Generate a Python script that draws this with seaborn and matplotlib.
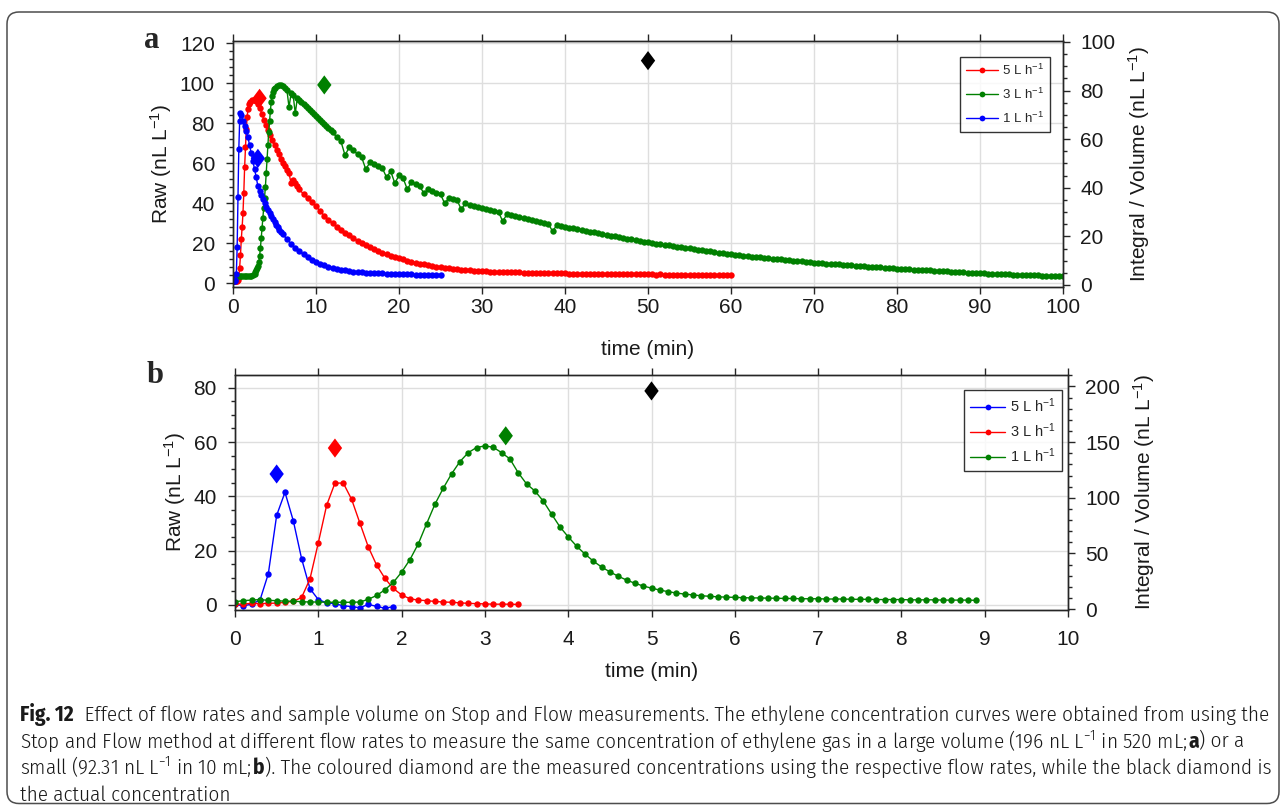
import matplotlib
matplotlib.use("Agg")
import matplotlib.pyplot as plt
import numpy as np
import seaborn as sns
from matplotlib.markers import MarkerStyle
from matplotlib.patches import FancyBboxPatch
from matplotlib.ticker import AutoMinorLocator, MultipleLocator
from matplotlib.transforms import IdentityTransform

RED, GREEN, BLUE = "#ff0000", "#008000", "#0000ff"

# ---- panel a: large volume, raw signal (nL/L) as (start min, step min, values) segments
blue_a = [
    (0.0, 0.1, [1.0, 1.0, 1.1, 1.5, 4.5, 18, 43, 67, 81, 85, 84]),
    (1.2, 0.2, [81, 78.5, 76, 73, 69, 65, 61, 57, 53, 48.5, 46, 44, 42, 40, 38, 36.5, 35,
                33.5, 32, 30.5, 29.2, 28, 26.8, 25.6, 24.5]),
    (6.5, 0.5, [22, 19.8, 17.8, 16, 14.4, 13, 11.8, 10.7, 9.8, 9.0, 8.3, 7.7, 7.2, 6.8, 6.4,
                6.1, 5.8, 5.6, 5.4, 5.2, 5.1, 5.0, 4.9, 5.0, 4.8, 4.7, 4.6, 4.7, 4.5, 4.4,
                4.5, 4.3, 4.2, 4.3, 4.1, 4.0, 4.1, 4.0]),
]
red_a = [
    (0.0, 0.1, [1.0, 1.0, 1.0, 1.0, 1.1, 1.2, 1.5, 3.0, 7.8, 14, 22, 28, 35, 45, 58, 68, 77,
                83, 87, 89.5, 90.5]),
    (2.25, 0.25, [91.5, 91.5, 91, 89.5, 87.5, 84.5, 81.5, 79, 76.5, 74, 71.5, 69, 66.8, 64.5,
                  62.3, 60.3, 58.4, 56.6, 54.9, 50, 51.6, 50, 48.5, 47]),
    (8.5, 0.5, [44.5, 42.5, 40.5, 38.5, 36, 33.8, 31.8, 30, 28.3, 26.8, 25.3, 23.9, 22.6, 21.3,
                20.1, 19, 18, 17, 16.1, 15.3, 14.5, 13.8, 13.1, 12.5, 11.9, 11.3, 10.8, 10.3,
                9.8, 9.4, 9.0, 8.6, 8.3, 8.0, 7.7, 7.5, 7.2, 7.0, 6.8, 6.6, 6.5, 6.3, 6.2, 6.0]),
    (30.5, 0.5, [5.9, 5.8, 5.8, 5.7, 5.6, 5.6, 5.5, 5.4, 5.4, 5.3, 5.3, 5.2, 5.2, 5.1, 5.1,
                 5.0, 5.0, 4.9, 4.9, 4.9, 4.8, 4.8, 4.8, 4.7, 4.7, 4.7, 4.6, 4.6, 4.6, 4.6,
                 4.5, 4.5, 4.5, 4.5, 4.5, 4.4, 4.4, 4.4, 4.4, 4.4, 4.4, 4.3, 4.4, 4.3, 4.3,
                 4.3, 4.3, 4.3, 4.3, 4.3, 4.2, 4.3, 4.2, 4.2, 4.3, 4.2, 4.2, 4.2, 4.2, 4.2]),
]
green_a = [
    (0.0, 0.2, [3.5, 3.6, 3.5, 3.6, 3.7, 3.6, 3.7, 3.6, 3.7, 3.8, 3.7, 3.8, 4.0]),
    (2.6, 0.1, [4.5, 5.5, 6.5, 7.5, 8.5, 10.5, 13.5, 17.5, 22.5, 27.5, 32.5, 37.5, 42.5, 48,
                55, 62, 69, 75.5, 81, 86, 90.5, 93.5, 95.5, 97, 97.5]),
    (5.25, 0.25, [98.5, 99, 99, 98.5, 97.5, 96.5, 88, 95, 94, 85, 92.5, 91.5, 90.5, 89.5, 88.5,
                  87.5, 86.5, 85.5, 84.5, 83.5, 82.5, 81.5, 80.5, 79.5, 78.5, 77.5, 76.5, 75.5]),
    (12.5, 0.5, [73, 71, 64, 68, 66.5, 64.5, 63, 57, 60.5, 59.5, 58.5, 57.5, 53, 56, 50, 54,
                 52.5, 47, 50.5, 49.5, 48.5, 45, 47, 46, 45, 44.5, 40, 42.5, 42, 41.5,
                 37, 40, 39, 38.5, 38, 37.5, 37, 36.5, 36, 35.5, 31, 34.5, 34, 33.5, 33,
                 32.5, 32, 31.5, 31, 30.5, 30, 29.7, 26, 29, 28.6, 28.2]),
    (40.5, 0.5, [27.8, 27.4, 27.0, 26.6, 26.2, 25.8, 25.4, 25.0, 24.6, 24.2, 23.8, 23.4, 23.0,
                 22.6, 22.3, 21.9, 21.5, 21.2, 20.8, 20.5, 20.1, 19.8, 19.5, 19.2, 18.9, 18.6,
                 18.3, 18.0, 17.7, 17.4, 17.1, 16.8, 16.5, 16.2, 15.9, 15.6, 15.3, 15.0, 14.8,
                 14.5, 14.2, 14.0, 13.7, 13.5, 13.3, 13.1, 12.9, 12.7, 12.5, 12.3, 12.1, 11.9,
                 11.7, 11.5, 11.3, 11.1, 10.9, 10.7, 10.5, 10.3, 10.2, 10.0, 9.8, 9.7, 9.5, 9.4,
                 9.2, 9.1, 8.9, 8.8, 8.6, 8.5, 8.3, 8.2, 8.0, 7.9, 7.7, 7.6, 7.4, 7.3, 7.2, 7.1,
                 6.9, 6.8, 6.7, 6.6, 6.5, 6.4, 6.2, 6.1, 6.0, 5.9, 5.8, 5.7, 5.5, 5.4, 5.3, 5.2,
                 5.1, 5.0, 4.9, 4.8, 4.8, 4.7, 4.6, 4.5, 4.4, 4.3, 4.3, 4.2, 4.1, 4.0, 4.0, 3.9,
                 3.8, 3.7, 3.7, 3.6, 3.5, 3.5]),
]
# measured (coloured) and actual (black) concentrations, integral / volume axis
diam_a_time = [3.2, 11.0, 3.0, 50.0]
diam_a_conc = [76.8, 82.3, 52.1, 92.3]
diam_a_color = [RED, GREEN, BLUE, "black"]
legend_a = ["5 L h$\\mathregular{^{-1}}$", "3 L h$\\mathregular{^{-1}}$", "1 L h$\\mathregular{^{-1}}$"]

# ---- panel b: small volume, sampled every 0.1 min
blue_b = [0.2, -0.3, 0.3, 1.8, 11.5, 33, 41.5, 31, 17, 6, 2, 0.8, 0.5, -0.3, -0.6, -1.0, 0.2,
          -0.5, -1.2, -0.6]
red_b = [0.2, 0.4, 0.6, 0.5, 0.6, 0.7, 1.0, 1.3, 2.8, 9.6, 22.9, 36.7, 44.9, 44.9, 38.9, 30.1,
         21.4, 14.7, 9.8, 6.1, 3.7, 2.3, 1.8, 1.6, 1.3, 1.1, 1.0, 0.8, 0.6, 0.5, 0.4, 0.3, 0.3,
         0.3, 0.2]
green_b = [1.2, 1.6, 1.8, 2.0, 1.7, 1.6, 1.4, 1.4, 1.2, 1.1, 1.1, 1.0, 1.0, 1.0, 1.0, 1.1,
           2.1, 3.5, 5.6, 8.3, 12.1, 16.7, 22.5, 29.9, 37.1, 43.0, 48.3, 52.8, 56.1, 58.0, 58.6,
           58.1, 56.1, 53.8, 48.7, 44.6, 42.0, 38.3, 33.5, 28.8, 25.1, 21.7,
           18.8, 16.2, 14.0, 12.2, 10.6, 9.2, 8.0, 7.0, 6.2, 5.5, 4.9, 4.4, 4.0, 3.7, 3.4, 3.2,
           3.0, 2.9, 2.8, 2.7, 2.6, 2.6, 2.5, 2.5, 2.4, 2.4, 2.3, 2.3, 2.3, 2.2, 2.2, 2.2, 2.1,
           2.1, 2.1, 2.0, 2.0, 2.0, 2.0, 1.9, 1.9, 1.9, 1.9, 1.8, 1.8, 1.8, 1.8, 1.7]
step_b = 0.1
diam_b_time = [0.5, 1.2, 3.25, 5.0]
diam_b_conc = [121.4, 144.7, 155.7, 196.0]
diam_b_color = [BLUE, RED, GREEN, "black"]
legend_b = legend_a

CAPTION = [
    [("Fig. 12", True), ("  Effect of flow rates and sample volume on Stop and Flow measurements. "
                         "The ethylene concentration curves were obtained from using the", False)],
    [("Stop and Flow method at different flow rates to measure the same concentration of ethylene "
      "gas in a large volume (196 nL L$\\mathregular{^{-1}}$ in 520 mL; ", False), ("a", True),
     (") or a", False)],
    [("small (92.31 nL L$\\mathregular{^{-1}}$ in 10 mL; ", False), ("b", True),
     ("). The coloured diamond are the measured concentrations using the respective flow rates, "
      "while the black diamond is", False)],
    [("the actual concentration", False)],
]
CAP_FONT = ["Fira Sans Condensed", "DejaVu Sans"]


def stitch(segments):
    t, v = [], []
    for start, step, vals in segments:
        t.extend(start + step * np.arange(len(vals)))
        v.extend(vals)
    return np.array(t), np.array(v)


sns.set_theme(style="ticks")
plt.rcParams["font.family"] = ["Liberation Sans", "DejaVu Sans"]
plt.rcParams.update({
    "axes.edgecolor": "#262626", "axes.linewidth": 1.0,
    "xtick.color": "#262626", "ytick.color": "#262626",
    "xtick.labelcolor": "#1a1a1a", "ytick.labelcolor": "#1a1a1a",
    "axes.labelcolor": "#1a1a1a",
})

W, H = 1284, 805
fig = plt.figure(figsize=(W / 100, H / 100), dpi=100)
fig.patch.set_facecolor("white")

diamond = MarkerStyle([(0, 1), (0.75, 0), (0, -1), (-0.75, 0), (0, 1)])


def panel(rect, curves, diam, ylim_l, ylim_r, xmax, xstep, ystep_l, minor_l, ystep_r, minor_r,
          legend_pos, labels, leg_size, leg_space, xpad, xlabelpad):
    ax = fig.add_axes(rect)
    for t, v, c in curves:
        sns.lineplot(x=t, y=v, ax=ax, color=c, linewidth=1, marker="o", markersize=4.6,
                     markeredgewidth=0, estimator=None, sort=False)
    ax.set_xlim(0, xmax)
    ax.set_ylim(*ylim_l)
    ax.xaxis.set_major_locator(MultipleLocator(xstep))
    ax.yaxis.set_major_locator(MultipleLocator(ystep_l))
    ax.yaxis.set_minor_locator(AutoMinorLocator(minor_l))
    ax.grid(True, which="major", color="#dedede", linewidth=1)
    ax.set_axisbelow(True)
    ax.tick_params(axis="both", which="major", direction="out", length=5, width=1,
                   labelsize=15)
    ax.tick_params(axis="x", top=True, labeltop=False, pad=xpad)
    ax.tick_params(axis="y", which="major", pad=8)
    ax.tick_params(axis="y", which="minor", direction="out", length=3, width=1)
    ax.set_xlabel("time (min)", fontsize=15, labelpad=xlabelpad)
    ax.set_ylabel("Raw (nL L$\\mathregular{^{-1}}$)", fontsize=15, labelpad=4)

    ax2 = ax.twinx()
    ax2.set_ylim(*ylim_r)
    ax2.yaxis.set_major_locator(MultipleLocator(ystep_r))
    ax2.yaxis.set_minor_locator(AutoMinorLocator(minor_r))
    ax2.tick_params(axis="y", which="major", direction="out", length=5, width=1,
                    labelsize=15, pad=7.5)
    ax2.tick_params(axis="y", which="minor", direction="out", length=3, width=1)
    ax2.set_ylabel("Integral / Volume (nL L$\\mathregular{^{-1}}$)", fontsize=15, labelpad=8)
    dt, dv, dc = diam
    sns.scatterplot(x=dt, y=dv, ax=ax2, hue=list(range(len(dt))), palette=dc, marker=diamond,
                    s=190, edgecolor="none", legend=False, zorder=5)

    leg = ax.legend(ax.get_lines()[:3], labels, loc="upper right", bbox_to_anchor=legend_pos,
                    borderaxespad=0, frameon=True, fancybox=False, edgecolor="black",
                    fontsize=leg_size, handlelength=2.4, handletextpad=0.3,
                    labelspacing=leg_space, borderpad=0.45, numpoints=1, markerscale=0.9)
    leg.get_frame().set_linewidth(1.0)
    leg.set_zorder(10)
    return ax, ax2


ta_b, va_b = stitch(blue_a)
ta_r, va_r = stitch(red_a)
ta_g, va_g = stitch(green_a)
panel([233 / W, 1 - 286.7 / H, 830 / W, 246 / H],
      [(ta_r, va_r, RED), (ta_g, va_g, GREEN), (ta_b, va_b, BLUE)],
      (diam_a_time, diam_a_conc, diam_a_color),
      (-1.7, 121.3), (-0.7, 100.5), 100, 10, 20, 5, 20, 4, (0.984, 0.934), legend_a,
      9.5, 0.65, 3, 17)

tb = lambda vals: step_b * np.arange(len(vals))
panel([235 / W, 1 - 609.5 / H, 833 / W, 234.5 / H],
      [(tb(blue_b), blue_b, BLUE), (tb(red_b), red_b, RED), (tb(green_b), green_b, GREEN)],
      (diam_b_time, diam_b_conc, diam_b_color),
      (-1.66, 84.7), (-0.3, 210.3), 10, 1, 20, 4, 50, 5, (0.993, 0.936), legend_b,
      10.5, 0.42, 9.5, 9.5)

fig.text(152 / W, 1 - 40 / H, "a", family=["Liberation Serif", "DejaVu Serif"],
         fontweight="bold", fontsize=22, ha="center", va="center")
fig.text(155 / W, 1 - 375 / H, "b", family=["Liberation Serif", "DejaVu Serif"],
         fontweight="bold", fontsize=22, ha="center", va="center")

# outer rounded frame
fig.patches.append(FancyBboxPatch((7, 1.5), 1272, 791.5, boxstyle="round,pad=0,rounding_size=12",
                                  transform=IdentityTransform(), facecolor="none",
                                  edgecolor="#4d4d4d", linewidth=1.1, figure=fig))

# caption, fitted to the line width of the reference
renderer = fig.canvas.get_renderer()


def draw_line(runs, x0, baseline, size):
    x = x0
    arts = []
    for s, bold in runs:
        t = fig.text(x / W, baseline / H, s, fontsize=size, family=CAP_FONT,
                     fontweight=700 if bold else 300, va="baseline", ha="left",
                     color="#1a1a1a")
        x = t.get_window_extent(renderer).x1
        arts.append(t)
    return x, arts


probe_end, probe = draw_line(CAPTION[0], 20, 100, 12)
for a in probe:
    a.remove()
cap_size = min(15.5, 12 * (1274 - 20) / (probe_end - 20))
for i, runs in enumerate(CAPTION):
    draw_line(runs, 20, H - (721 + 26.5 * i), cap_size)

fig.savefig("out.png", dpi=100, facecolor="white")
